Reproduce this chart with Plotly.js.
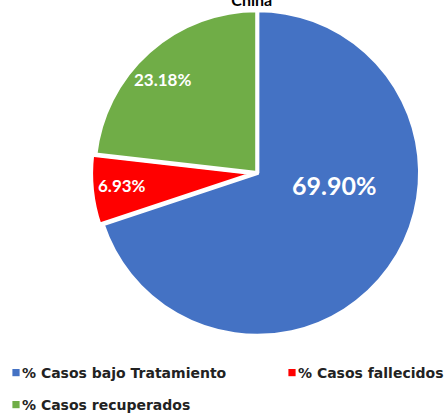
<!DOCTYPE html>
<html>
<head>
<meta charset="utf-8">
<script src="https://cdn.plot.ly/plotly-3.0.1.min.js"></script>
<style>html,body{margin:0;padding:0;background:#fff;}#chart{width:444px;height:416px;}</style>
</head>
<body>
<div id="chart"></div>
<script>
var categories = ['% Casos bajo Tratamiento', '% Casos fallecidos', '% Casos recuperados'];
var values = [69.90, 6.93, 23.18];
var colors = ['#4472C4', '#FF0000', '#70AD47'];
var chartTitle = 'China';

// label placement (layout only, paper coordinates) and sizes per slice
var labelPos = [[0.752, 0.555], [0.275, 0.553], [0.367, 0.808]];
var labelSize = [25, 17, 17];

var trace = {
  type: 'pie',
  labels: categories,
  values: values,
  sort: false,
  direction: 'clockwise',
  rotation: 0,
  pull: [0, 0.02, 0],
  marker: {colors: colors, line: {color: '#FFFFFF', width: 4}},
  textinfo: 'none',
  hoverinfo: 'none',
  domain: {x: [0.2052, 0.9534], y: [0.182, 0.9863]}
};

var annotations = values.map(function (v, i) {
  return {
    xref: 'paper', yref: 'paper',
    x: labelPos[i][0], y: labelPos[i][1],
    xanchor: 'center', yanchor: 'middle',
    text: '<b>' + v.toFixed(2) + '%</b>',
    showarrow: false,
    font: {family: 'Lato, sans-serif', size: labelSize[i], color: '#FFFFFF'}
  };
});

var layout = {
  width: 444,
  height: 416,
  margin: {l: 0, r: 0, t: 0, b: 0, autoexpand: false},
  paper_bgcolor: '#FFFFFF',
  title: {text: '<b>' + chartTitle + '</b>', font: {family: 'Lato, sans-serif', size: 16, color: '#000000'}, x: 0.567, xanchor: 'center', y: 1.006, yref: 'container', yanchor: 'middle'},
  annotations: annotations,
  showlegend: true,
  legend: {
    orientation: 'h',
    x: -18 / 444, xanchor: 'left',
    y: 59 / 416, yanchor: 'top',
    font: {family: 'DejaVu Sans, sans-serif', size: 14, color: '#222222', weight: 700},
    itemwidth: 30,
    traceorder: 'normal'
  }
};

// legend entry offsets (px) relative to first entry: column step and row step
var legendColStep = 276, legendRowStep = 32;

var gd = document.getElementById('chart');
Plotly.newPlot(gd, [trace], layout, {staticPlot: true, displayModeBar: false}).then(function () {
  var sb = gd.querySelector('.legend .scrollbox');
  if (sb) sb.removeAttribute('clip-path');
  gd.querySelectorAll('.legend .legendpie').forEach(function (p) {
    p.setAttribute('transform', 'translate(34,0) scale(0.6)');
    p.style.strokeWidth = '0';
  });
  var items = gd.querySelectorAll('.legend .traces');
  var m0 = /translate\(\s*([-\d.]+)[ ,]+([-\d.]+)\s*\)/.exec(items[0].getAttribute('transform') || '');
  var x0 = m0 ? parseFloat(m0[1]) : 0, y0 = m0 ? parseFloat(m0[2]) : 0;
  items.forEach(function (it, i) {
    var col = i % 2, row = Math.floor(i / 2);
    it.setAttribute('transform', 'translate(' + (x0 + col * legendColStep) + ',' + (y0 + row * legendRowStep) + ')');
  });
});
</script>
</body>
</html>
